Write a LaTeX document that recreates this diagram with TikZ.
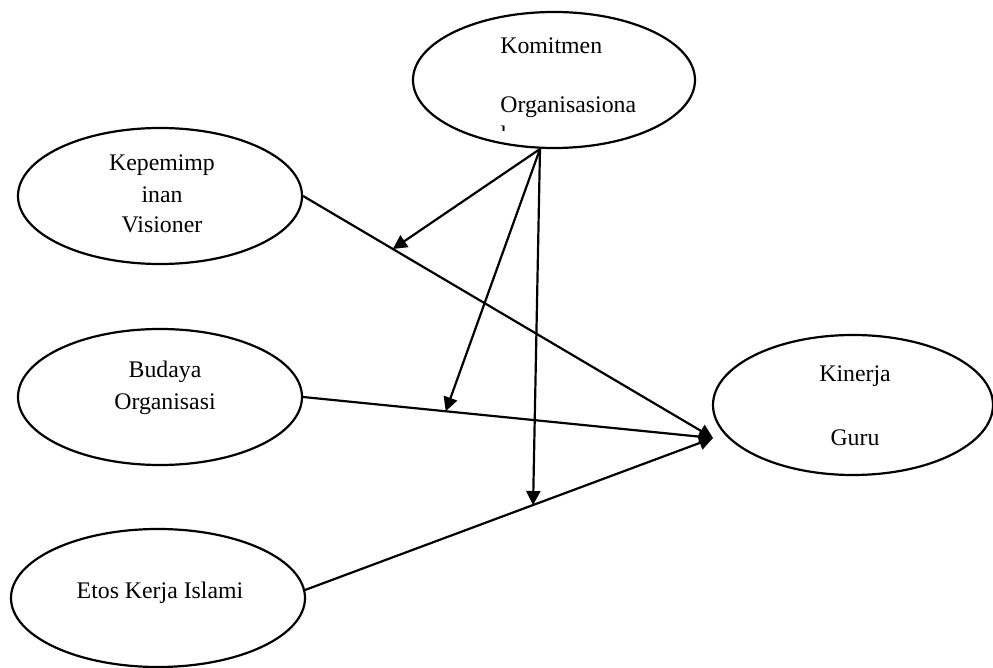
\documentclass[tikz,border=0pt]{standalone}
\usepackage{fontspec}
\setmainfont{Liberation Serif}
\usetikzlibrary{shapes.geometric,arrows.meta,calc}
\begin{document}
\begin{tikzpicture}[x=0.5pt,y=-0.5pt,
 oval/.style={draw,ellipse,line width=1.1pt,inner sep=0pt},
 lbl/.style={font=\fontsize{11.9}{14}\selectfont,inner sep=0pt},
 conn/.style={line width=1.1pt},
 arr/.style={conn,-{Triangle[length=7pt,width=7pt]}}]
\useasboundingbox (0,0) rectangle (993,668);
% ellipses
\node[oval,minimum width=141pt,minimum height=68pt] (kom) at (554,80) {};
\node[oval,minimum width=142pt,minimum height=68pt] (kep) at (160,196) {};
\node[oval,minimum width=142pt,minimum height=68pt] (bud) at (160,397) {};
\node[oval,minimum width=147pt,minimum height=69pt] (eto) at (158,598) {};
\node[oval,minimum width=140pt,minimum height=70pt] (kin) at (853,405) {};
% texts
\node[lbl,anchor=mid west] (t1) at (500,49) {Komitmen};
\node[lbl,anchor=mid west] (t2) at (500,108) {Organisasiona};
\begin{scope}
\clip (495,124) rectangle (512,131);
\node[lbl,anchor=north west] (t3) at (500,125.5) {l};
\end{scope}
\node[lbl,anchor=mid] (t4) at (162,166) {Kepemimp};
\node[lbl,anchor=mid] (t5) at (162,198) {inan};
\node[lbl,anchor=mid] (t6) at (162,228) {Visioner};
\node[lbl,anchor=mid] (t7) at (165,373) {Budaya};
\node[lbl,anchor=mid] (t8) at (165,405) {Organisasi};
\node[lbl,anchor=mid] (t9) at (160,594) {Etos Kerja Islami};
\node[lbl,anchor=mid] (t10) at (855,377) {Kinerja};
\node[lbl,anchor=mid] (t11) at (855,441) {Guru};
% connectors
\coordinate (kinin) at (713,438);
\coordinate (ks) at (540,149);
\coordinate (es) at (305,590);
\draw[arr] (kep.east) -- (kinin);
\draw[arr] (bud.east) -- (kinin);
\draw[arr] (es) -- (kinin);
\coordinate (p1) at ($(kep.east)!0.219!(kinin)$);
\coordinate (p2) at ($(bud.east)!0.348!(kinin)$);
\coordinate (p3) at ($(es)!0.559!(kinin)$);
\draw[arr] (ks) -- (p1);
\draw[arr] (ks) -- (p2);
\draw[arr] (ks) -- (p3);
\end{tikzpicture}
\end{document}
